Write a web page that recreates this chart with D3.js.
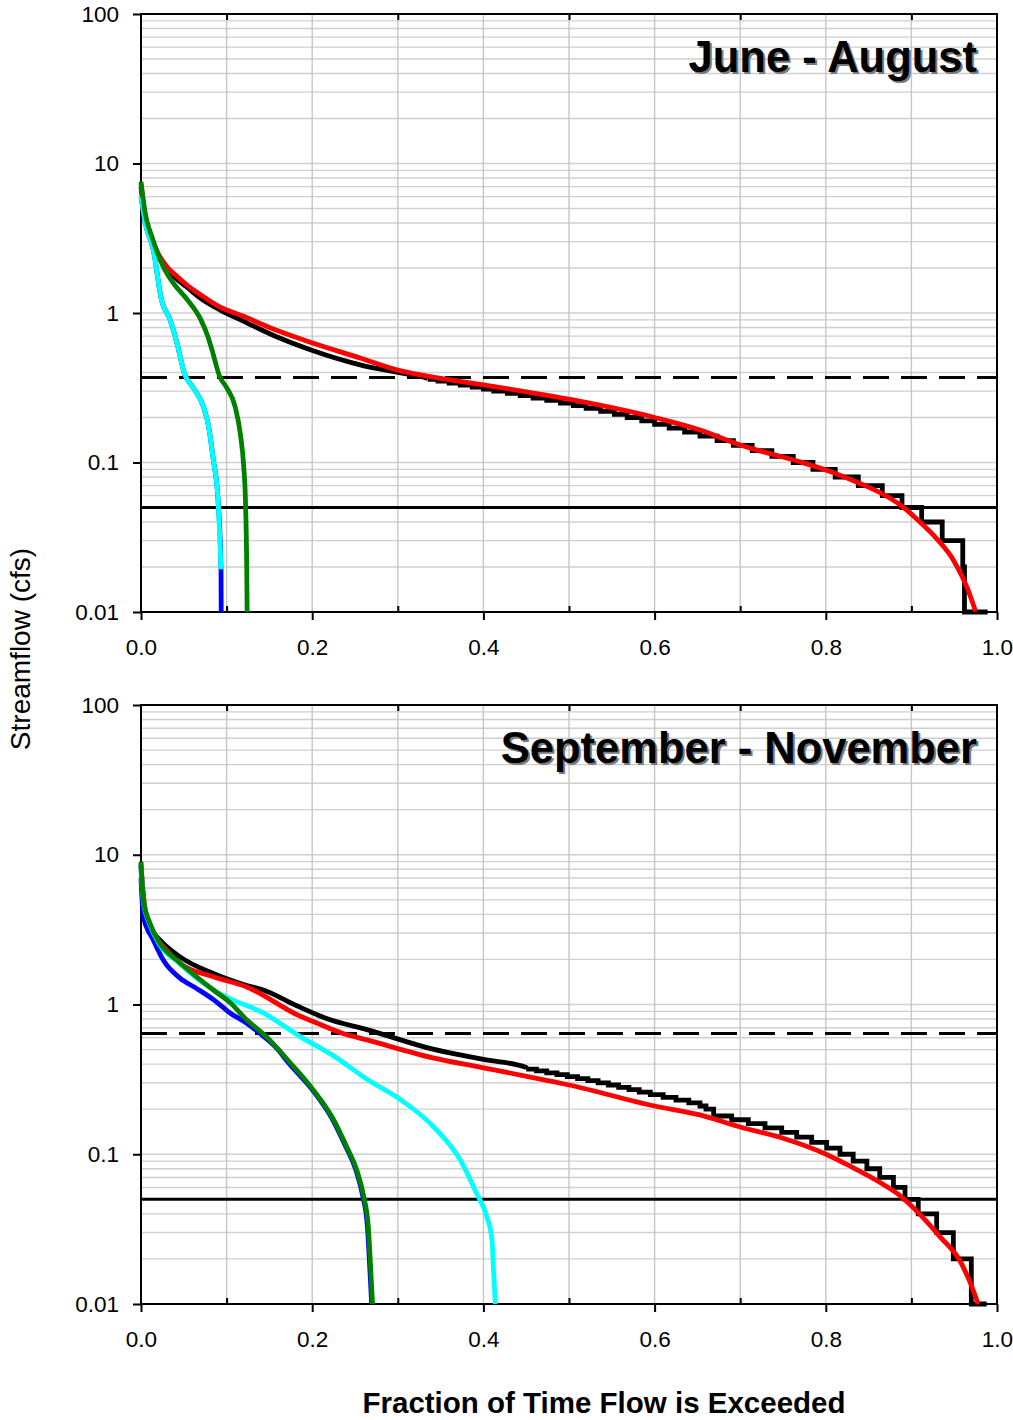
<!DOCTYPE html>
<html>
<head>
<meta charset="utf-8">
<script src="https://cdn.jsdelivr.net/npm/d3@7"></script>
<style>
  html, body { margin: 0; padding: 0; background: #fff; }
  svg { display: block; font-family: "Liberation Sans", Arial, sans-serif; }
</style>
</head>
<body>
<svg id="chart" width="1013" height="1420"></svg>
<script>
// Flow-duration curves: fraction of time exceeded vs. streamflow (cfs)

const xTicks = [0, 0.2, 0.4, 0.6, 0.8, 1.0];
const xMinorTicks = [0.1, 0.3, 0.5, 0.7, 0.9];
const yTicks = [0.01, 0.1, 1, 10, 100];

// ---- June - August ----
const sumBlackSmooth = [[0,7.0],[0.004,4.6],[0.01,3.4],[0.02,2.45],[0.03,2.0],[0.04,1.72],[0.053,1.50],[0.07,1.25],[0.092,1.05],[0.12,0.88],[0.162,0.68],[0.197,0.57],[0.256,0.45],[0.30,0.40],[0.335,0.365]];
const sumBlackSteps = [[0.335,0.36],[0.347,0.35],[0.36,0.34],[0.373,0.33],[0.387,0.32],[0.40,0.31],[0.412,0.30],[0.428,0.29],[0.443,0.28],[0.458,0.27],[0.474,0.26],[0.49,0.25],[0.505,0.24],[0.52,0.23],[0.537,0.22],[0.553,0.21],[0.568,0.20],[0.585,0.19],[0.60,0.18],[0.617,0.17],[0.635,0.16],[0.653,0.15],[0.673,0.14],[0.692,0.13],[0.714,0.12],[0.737,0.11],[0.762,0.10],[0.785,0.09],[0.811,0.08],[0.838,0.07],[0.866,0.06],[0.889,0.05],[0.912,0.04],[0.936,0.03],[0.960,0.02],[0.962,0.01],[0.989,0.01]];
const sumRed = [[0,7.3],[0.005,4.5],[0.01,3.5],[0.02,2.5],[0.03,2.05],[0.04,1.8],[0.053,1.55],[0.07,1.32],[0.092,1.10],[0.12,0.95],[0.15,0.80],[0.19,0.66],[0.256,0.50],[0.30,0.415],[0.35,0.365],[0.40,0.33],[0.50,0.265],[0.60,0.20],[0.653,0.165],[0.70,0.131],[0.77,0.101],[0.809,0.0855],[0.84,0.0724],[0.867,0.0613],[0.891,0.050],[0.910,0.040],[0.930,0.0307],[0.949,0.0223],[0.965,0.0146],[0.975,0.0101]];
const sumBlue = [[0,6.0],[0.005,4.0],[0.0144,2.64],[0.024,1.22],[0.034,0.90],[0.042,0.63],[0.051,0.39],[0.061,0.317],[0.073,0.236],[0.079,0.174],[0.0845,0.104],[0.090,0.0563],[0.0935,0.0193],[0.0937,0.01]];
const sumCyan = [[0,6.0],[0.005,4.0],[0.0144,2.64],[0.024,1.22],[0.034,0.90],[0.042,0.63],[0.051,0.39],[0.061,0.317],[0.073,0.236],[0.079,0.174],[0.0845,0.104],[0.090,0.0563],[0.0935,0.0193]];
const sumGreen = [[0,7.55],[0.004,5.0],[0.014,3.08],[0.026,2.04],[0.038,1.58],[0.053,1.25],[0.070,0.90],[0.078,0.70],[0.083,0.565],[0.092,0.375],[0.10,0.317],[0.110,0.236],[0.116,0.156],[0.120,0.094],[0.122,0.0563],[0.1235,0.0203],[0.124,0.01]];
const sumDashed = 0.37;
const sumSolid = 0.05;

// ---- September - November ----
const fallBlackSmooth = [[0,8.5],[0.0027,4.5],[0.0105,3.3],[0.022,2.70],[0.0456,2.08],[0.0845,1.61],[0.1235,1.34],[0.143,1.25],[0.182,0.98],[0.221,0.79],[0.264,0.68],[0.341,0.503],[0.40,0.43],[0.45,0.38]];
const fallBlackSteps = [[0.45,0.37],[0.462,0.36],[0.474,0.35],[0.486,0.34],[0.498,0.33],[0.51,0.32],[0.522,0.31],[0.534,0.30],[0.546,0.29],[0.558,0.28],[0.57,0.27],[0.582,0.26],[0.595,0.25],[0.61,0.24],[0.625,0.23],[0.64,0.22],[0.653,0.21],[0.660,0.20],[0.669,0.18],[0.690,0.17],[0.7095,0.16],[0.729,0.15],[0.7485,0.14],[0.766,0.13],[0.7835,0.12],[0.801,0.11],[0.8166,0.10],[0.832,0.09],[0.848,0.08],[0.863,0.07],[0.879,0.06],[0.8925,0.05],[0.908,0.04],[0.9295,0.03],[0.949,0.02],[0.970,0.01],[0.988,0.01]];
const fallRed = [[0,8.5],[0.005,4.3],[0.015,3.0],[0.03,2.3],[0.0456,1.88],[0.0845,1.53],[0.1235,1.31],[0.186,0.835],[0.201,0.77],[0.236,0.64],[0.264,0.58],[0.341,0.44],[0.40,0.378],[0.478,0.308],[0.50,0.29],[0.60,0.21],[0.653,0.183],[0.70,0.152],[0.75,0.128],[0.801,0.0997],[0.828,0.0835],[0.863,0.065],[0.887,0.0528],[0.91,0.0397],[0.933,0.0283],[0.957,0.0193],[0.968,0.0142],[0.978,0.01]];
const fallBlue = [[0,7.0],[0.0027,3.85],[0.0144,2.70],[0.026,1.98],[0.0456,1.50],[0.065,1.28],[0.0845,1.08],[0.104,0.878],[0.1235,0.75],[0.139,0.64],[0.16,0.50],[0.172,0.41],[0.20,0.27],[0.224,0.17],[0.239,0.113],[0.251,0.0787],[0.259,0.0528],[0.2645,0.033],[0.267,0.0187],[0.2695,0.01]];
const fallCyan = [[0,8.8],[0.0027,4.9],[0.0105,3.4],[0.022,2.5],[0.0417,1.95],[0.065,1.5],[0.085,1.25],[0.100,1.12],[0.143,0.878],[0.186,0.61],[0.225,0.454],[0.264,0.317],[0.303,0.232],[0.341,0.154],[0.373,0.0915],[0.392,0.0548],[0.404,0.0383],[0.41,0.0268],[0.412,0.016],[0.414,0.01]];
const fallGreen = [[0,9.0],[0.0027,5.0],[0.0105,3.48],[0.022,2.56],[0.0417,1.98],[0.065,1.53],[0.0845,1.25],[0.104,1.03],[0.1235,0.79],[0.145,0.62],[0.174,0.41],[0.201,0.27],[0.225,0.17],[0.240,0.113],[0.252,0.0787],[0.26,0.0528],[0.2655,0.033],[0.268,0.0187],[0.2705,0.01]];
const fallDashed = 0.64;
const fallSolid = 0.05;

const panels = [
  { top: 14, bottom: 612, title: "June - August",
    blackSmooth: sumBlackSmooth, blackSteps: sumBlackSteps,
    red: sumRed, blue: sumBlue, cyan: sumCyan, green: sumGreen,
    dashed: sumDashed, solid: sumSolid },
  { top: 705, bottom: 1304, title: "September - November",
    blackSmooth: fallBlackSmooth, blackSteps: fallBlackSteps,
    red: fallRed, blue: fallBlue, cyan: fallCyan, green: fallGreen,
    dashed: fallDashed, solid: fallSolid }
];

const svg = d3.select("#chart");
const left = 141, right = 997;
const x = d3.scaleLinear().domain([0, 1]).range([left, right]);

// log grid values 1..9 per decade
const gridVals = [];
for (let e = -2; e < 2; e++) {
  for (let m = 1; m <= 9; m++) gridVals.push(m * Math.pow(10, e));
}
gridVals.push(100);

panels.forEach(p => {
  const y = d3.scaleLog().domain([0.01, 100]).range([p.bottom, p.top]);
  const g = svg.append("g");

  // horizontal grid
  g.append("g").selectAll("line").data(gridVals).join("line")
    .attr("x1", left).attr("x2", right)
    .attr("y1", d => y(d)).attr("y2", d => y(d))
    .attr("stroke", "#cfcfcf").attr("stroke-width", 1.4);

  // vertical grid
  g.append("g").selectAll("line").data(d3.range(1, 10).map(i => i / 10)).join("line")
    .attr("x1", d => x(d)).attr("x2", d => x(d))
    .attr("y1", p.top).attr("y2", p.bottom)
    .attr("stroke", "#c6c6c6").attr("stroke-width", 1.4);

  // frame
  g.append("rect").attr("x", left).attr("y", p.top)
    .attr("width", right - left).attr("height", p.bottom - p.top)
    .attr("fill", "none").attr("stroke", "#000").attr("stroke-width", 2);

  // reference lines
  g.append("line").attr("x1", left).attr("x2", right)
    .attr("y1", y(p.dashed)).attr("y2", y(p.dashed))
    .attr("stroke", "#000").attr("stroke-width", 3)
    .attr("stroke-dasharray", "26,12");
  g.append("line").attr("x1", left).attr("x2", right)
    .attr("y1", y(p.solid)).attr("y2", y(p.solid))
    .attr("stroke", "#000").attr("stroke-width", 3);

  const lineSmooth = d3.line().x(d => x(d[0])).y(d => y(d[1])).curve(d3.curveMonotoneX);
  const lineStep = d3.line().x(d => x(d[0])).y(d => y(d[1])).curve(d3.curveStepAfter);

  const curves = g.append("g").attr("fill", "none").attr("stroke-width", 4.8)
    .attr("stroke-linejoin", "round");
  // the smooth upper part runs into the stepped tail
  const blackAll = p.blackSmooth.concat([p.blackSteps[0]]);
  curves.append("path").attr("d", lineSmooth(blackAll)).attr("stroke", "#000");
  curves.append("path").attr("d", lineStep(p.blackSteps)).attr("stroke", "#000")
    .attr("stroke-linejoin", "miter");
  curves.append("path").attr("d", lineSmooth(p.red)).attr("stroke", "#ff0000");
  curves.append("path").attr("d", lineSmooth(p.blue)).attr("stroke", "#0000ff");
  curves.append("path").attr("d", lineSmooth(p.cyan)).attr("stroke", "#00ffff");
  curves.append("path").attr("d", lineSmooth(p.green)).attr("stroke", "#008000");

  // axes
  const yAxis = d3.axisLeft(y).tickValues(yTicks)
    .tickFormat(d => String(d)).tickSize(8).tickPadding(14);
  const ya = g.append("g").attr("transform", `translate(${left},0)`).call(yAxis);
  ya.select(".domain").remove();

  const xAxis = d3.axisBottom(x).tickValues(xTicks)
    .tickFormat(d3.format(".1f")).tickSize(8).tickPadding(19);
  const xa = g.append("g").attr("transform", `translate(0,${p.bottom})`).call(xAxis);
  xa.select(".domain").remove();

  const xMinor = d3.axisBottom(x).tickValues(xMinorTicks).tickFormat("").tickSize(-6);
  const xm = g.append("g").attr("transform", `translate(0,${p.bottom})`).call(xMinor);
  xm.select(".domain").remove();

  const xTopMinor = d3.axisTop(x).tickValues(xMinorTicks).tickFormat("").tickSize(-6);
  const xt = g.append("g").attr("transform", `translate(0,${p.top})`).call(xTopMinor);
  xt.select(".domain").remove();

  g.selectAll(".tick line").attr("stroke", "#000").attr("stroke-width", 2);
  g.selectAll(".tick text").attr("fill", "#000").attr("font-size", 22.5)
    .attr("font-family", "Liberation Sans, Arial, sans-serif");

  // panel title with soft shadow
  const ty = p.top + 58, tx = 977;
  g.append("text").attr("x", tx + 2).attr("y", ty + 2)
    .attr("text-anchor", "end").attr("font-size", 43.5).attr("font-weight", "bold")
    .attr("fill", "#7a7a7a").text(p.title);
  g.append("text").attr("x", tx).attr("y", ty)
    .attr("text-anchor", "end").attr("font-size", 43.5).attr("font-weight", "bold")
    .attr("fill", "#000").text(p.title);
});

// axis titles
svg.append("text")
  .attr("transform", "translate(30,649) rotate(-90)")
  .attr("text-anchor", "middle").attr("font-size", 28).attr("fill", "#000")
  .text("Streamflow (cfs)");
svg.append("text")
  .attr("x", 604).attr("y", 1413)
  .attr("text-anchor", "middle").attr("font-size", 29.5).attr("font-weight", "bold")
  .attr("fill", "#000")
  .text("Fraction of Time Flow is Exceeded");
</script>
</body>
</html>
